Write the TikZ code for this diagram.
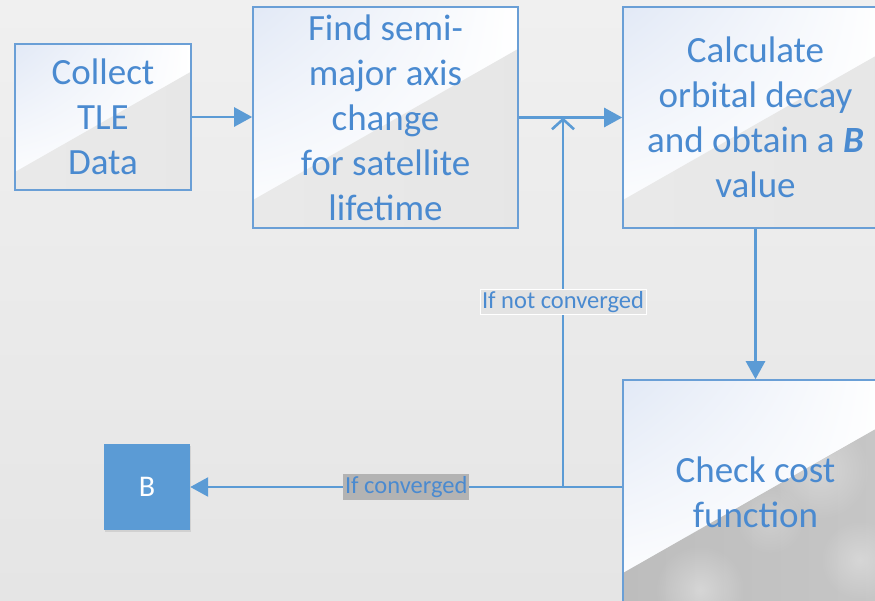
\documentclass[tikz,border=0pt]{standalone}
\usepackage{fontspec}
\setmainfont{Carlito}
\usetikzlibrary{arrows.meta,calc,fadings,shadows,shadings}
\tikzfading[name=softblob, inner color=transparent!0, outer color=transparent!100]
\definecolor{boxline}{HTML}{6A9FD6}
\definecolor{arr}{HTML}{5B9BD5}
\definecolor{txt}{HTML}{4A8AD0}
\definecolor{topblue}{HTML}{E2E9F6}
\definecolor{bgtop}{HTML}{F0F0F0}
\definecolor{bgbot}{HTML}{E5E5E5}
\definecolor{lowA}{HTML}{E9E9E9}
\definecolor{lowB}{HTML}{E3E3E3}
\definecolor{cloudA}{HTML}{BDBDBD}
\definecolor{cloudB}{HTML}{D2D2D2}
\definecolor{lblA}{HTML}{E3E3E3}
\definecolor{lblB}{HTML}{B3B3B3}
\begin{document}
\begin{tikzpicture}[x=1pt,y=-1pt,
  box/.style n args={2}{draw=boxline, line width=1.6pt, text=txt, align=center,
    font=\fontsize{37}{45}\selectfont, inner sep=0pt,
    path picture={
      \shade[upper left=topblue, upper right=white, lower left=white, lower right=white]
        (path picture bounding box.south west) rectangle (path picture bounding box.north east);
      \path[#2] ($(path picture bounding box.south west)+(0,-#1)$) -- +(600,-342) -- +(600,60) -- +(0,60) -- cycle;
    }},
  plainlow/.style={left color=lowA, right color=lowB},
  cloudlow/.style={left color=cloudA, right color=cloudB},
  conn/.style={draw=arr, line width=2.6pt},
  tip/.style={-{Triangle[length=18pt,width=19pt]}},
  lbl/.style={text=txt, font=\fontsize{24.5}{26}\selectfont, inner sep=2pt},
  bnode/.style={fill=arr, text=white, minimum width=86pt, minimum height=86pt, inner sep=0pt,
    font=\fontsize{30}{32}\selectfont,
    drop shadow={opacity=0.2, shadow xshift=1pt, shadow yshift=-2pt}}
]
\useasboundingbox (0,0) rectangle (875,600);
\begin{scope}
\clip (0,0) rectangle (875,600);
\shade[top color=bgtop, bottom color=bgbot] (0,0) rectangle (875,600);

\node[box={18}{plainlow}, minimum width=176pt, minimum height=146pt] (collect) at (103,117) {Collect\\TLE\\Data};
\node[box={28}{plainlow}, minimum width=265pt, minimum height=221pt] (find) at (385.5,117.5) {Find semi-\\major axis\\change\\for satellite\\lifetime};
\node[box={28}{plainlow}, minimum width=265pt, minimum height=221pt] (calc) at (755.5,117.5) {Calculate\\orbital decay\\and obtain a \textbf{\textit{B}}\\value};
\node[box={31}{cloudlow}, minimum width=265pt, minimum height=224pt] (check) at (755.5,492) {};
% cloud texture
\begin{scope}
\clip ($(check.south west)+(0,-31)$) -- +(600,-342) -- +(600,60) -- +(0,60) -- cycle;
\clip (check.south west) rectangle (check.north east);
\fill[white, path fading=softblob, fill opacity=0.35] (700,590) circle (45);
\fill[white, path fading=softblob, fill opacity=0.3] (820,470) circle (50);
\fill[white, path fading=softblob, fill opacity=0.3] (860,560) circle (40);
\fill[white, path fading=softblob, fill opacity=0.2] (770,520) circle (35);
\end{scope}
\node[text=txt, align=center, font=\fontsize{37}{45}\selectfont] (checktxt) at (check.center) {Check cost\\function};

\node[bnode] (b) at (147,487) {B};

\draw[conn, tip] (collect.east) -- (collect.east -| find.west);
\draw[conn, tip] (find.east) -- (calc.west);
\draw[conn, tip] (calc.south) -- (check.north);
\draw[conn, tip] (check.west |- b.east) -- node[lbl, fill=lblB] (lconv) {If converged} (b.east);
\coordinate (j) at (563,487);
\draw[conn, -{Straight Barb[length=10pt,width=22pt]}] (j) -- node[lbl, fill=lblA, draw=white, line width=0.8pt] (lnot) {If not converged} (j |- find.east);
\end{scope}
\end{tikzpicture}
\end{document}
